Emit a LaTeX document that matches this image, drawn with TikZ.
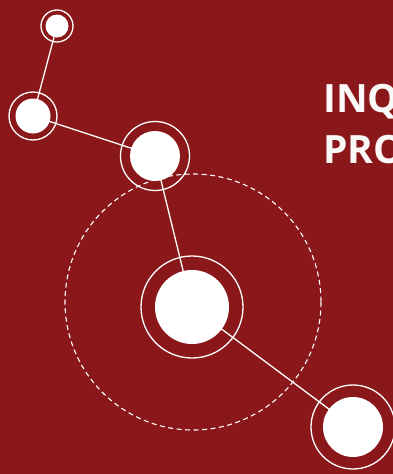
\documentclass[tikz,border=0pt]{standalone}
\usepackage{fontspec}
\newfontfamily\titlefont{Open Sans}
\definecolor{bg}{HTML}{8A171A}
\definecolor{txt}{HTML}{FBF8F8}
\tikzset{
  ring/.style={draw=white, line width=1.3pt},
  disc/.style={fill=white},
  link/.style={draw=white, line width=1.3pt},
  orbit/.style={draw=white, line width=1.1pt, dash pattern=on 5pt off 3.5pt},
  title/.style={anchor=base west, inner sep=0pt, text=txt, font=\titlefont\bfseries\fontsize{39}{39}\selectfont}
}
\begin{document}
\begin{tikzpicture}[x=1pt,y=-1pt]
\useasboundingbox (0,0) rectangle (393,474);
\clip (0,0) rectangle (393,474);
\fill[bg] (0,0) rectangle (393,474);
% named centres
\coordinate (n1) at (57,26);
\coordinate (n2) at (33,116);
\coordinate (n3) at (155,156);
\coordinate (n4) at (192,307);
\coordinate (n5) at (353,427);
% orbit
\draw[orbit] (193,302) circle[radius=128];
% links
\draw[link] (n1) -- (n2);
\draw[link] (n2) -- (n3);
\draw[link] (n3) -- (n4);
\draw[link] (n4) -- (n5);
% nodes
\fill[disc] (n1) circle[radius=11.5];
\draw[ring] (n1) circle[radius=16];
\fill[disc] (n2) circle[radius=17.5];
\draw[ring] (n2) circle[radius=24];
\fill[disc] (n3) circle[radius=25];
\draw[ring] (n3) circle[radius=34.5];
\fill[disc] (n4) circle[radius=37];
\draw[ring] (n4) circle[radius=51];
\fill[disc] (n5) circle[radius=30];
\draw[ring] (n5) circle[radius=42];
% title
\node[title] (t1) at (323,112) {INQ};
\node[title] (t2) at (323,163) {PRO};
\end{tikzpicture}
\end{document}
